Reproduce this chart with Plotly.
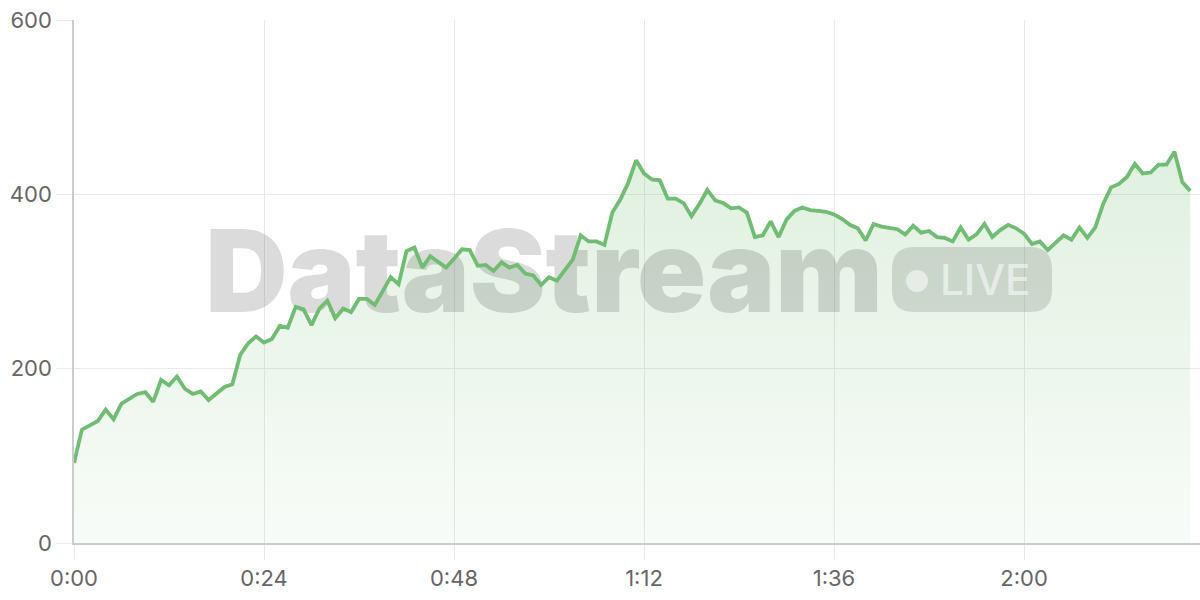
import plotly.graph_objects as go

# ---- data ----
minutes = list(range(142))
values = [92, 130, 135, 140, 153, 142, 160, 166, 171, 173,
          162, 187, 181, 191, 177, 171, 174, 164, 171, 179,
          182, 216, 229, 237, 230, 234, 249, 247, 271, 268,
          250, 269, 278, 258, 269, 265, 280, 280, 273, 290,
          305, 297, 335, 339, 316, 329, 322, 316, 326, 337,
          336, 318, 319, 312, 322, 316, 319, 309, 307, 296,
          305, 301, 313, 325, 353, 346, 346, 342, 379, 394,
          413, 439, 424, 417, 416, 395, 395, 390, 375, 389,
          405, 393, 390, 384, 385, 379, 351, 353, 369, 351,
          371, 381, 385, 382, 381, 380, 377, 372, 365, 361,
          347, 366, 363, 362, 360, 354, 364, 356, 358, 351,
          350, 346, 362, 348, 354, 366, 351, 359, 365, 361,
          355, 343, 346, 336, 344, 353, 348, 362, 350, 362,
          389, 408, 412, 420, 435, 424, 425, 434, 434, 449,
          414, 404]
x_tickvals = [0, 24, 48, 72, 96, 120]
x_ticktext = ["0:00", "0:24", "0:48", "1:12", "1:36", "2:00"]
y_tickvals = [0, 200, 400, 600]

GREEN = "rgb(112,188,114)"
W, H = 1200, 600
ML, MR, MT, MB = 74, 0, 20, 57
PW, PH = W - ML - MR, H - MT - MB
XSCALE = 190 / 24          # px per minute
YSCALE = PH / 600          # px per unit


def px(x):
    return (x - ML) / PW


def py(y):
    return (H - MB - y) / PH


fig = go.Figure()

# filled area
fig.add_trace(go.Scatter(
    x=minutes, y=values, mode="lines", fill="tozeroy",
    line=dict(width=0, color=GREEN),
    fillgradient=dict(type="vertical",
                      colorscale=[[0, "rgba(112,188,114,0.05)"],
                                  [1, "rgba(112,188,114,0.22)"]]),
    hoverinfo="skip", showlegend=False))

# watermark text (beneath the line)
fig.add_trace(go.Scatter(
    x=[(544 - ML) / XSCALE], y=[(H - MB - 283) / YSCALE],
    mode="text", text=["DataStream"],
    textfont=dict(family="Inter", size=114, weight=900, color="rgba(0,0,0,0.14)"),
    textposition="middle center", hoverinfo="skip", showlegend=False))

# line
fig.add_trace(go.Scatter(
    x=minutes, y=values, mode="lines",
    line=dict(width=3.8, color=GREEN),
    hoverinfo="skip", showlegend=False))

# LIVE badge
bx0, bx1, by0, by1, r = 892, 1052, 247, 312, 22
path = (f"M {px(bx0 + r)},{py(by0)} L {px(bx1 - r)},{py(by0)} "
        f"Q {px(bx1)},{py(by0)} {px(bx1)},{py(by0 + r)} "
        f"L {px(bx1)},{py(by1 - r)} Q {px(bx1)},{py(by1)} {px(bx1 - r)},{py(by1)} "
        f"L {px(bx0 + r)},{py(by1)} Q {px(bx0)},{py(by1)} {px(bx0)},{py(by1 - r)} "
        f"L {px(bx0)},{py(by0 + r)} Q {px(bx0)},{py(by0)} {px(bx0 + r)},{py(by0)} Z")
fig.add_shape(type="path", path=path, xref="paper", yref="paper",
              fillcolor="rgba(0,0,0,0.12)", line=dict(width=0), layer="above")
fig.add_shape(type="circle", xref="paper", yref="paper",
              x0=px(906), x1=px(928), y0=py(270), y1=py(292),
              fillcolor="rgba(255,255,255,0.55)", line=dict(width=0), layer="above")
fig.add_annotation(x=px(985), y=py(279), xref="paper", yref="paper",
                   text="LIVE", showarrow=False,
                   font=dict(family="Inter", size=42, weight=500,
                             color="rgba(255,255,255,0.55)"),
                   xanchor="center", yanchor="middle")

fig.update_layout(
    width=W, height=H,
    margin=dict(l=ML, r=MR, t=MT, b=MB, autoexpand=False),
    plot_bgcolor="white", paper_bgcolor="white",
    font=dict(family="Inter", size=22, color="#666"),
    xaxis=dict(range=[0, PW / XSCALE], tickvals=x_tickvals, ticktext=x_ticktext,
               showgrid=True, gridcolor="#e9e9e9", gridwidth=1,
               ticks="outside", ticklen=15, tickcolor="#e9e9e9",
               showline=True, linecolor="#cccccc", linewidth=1.5,
               zeroline=False, fixedrange=True, automargin=False),
    yaxis=dict(range=[0, 600], tickvals=y_tickvals,
               showgrid=True, gridcolor="#e9e9e9", gridwidth=1,
               ticks="outside", ticklen=16, tickcolor="#e9e9e9",
               showline=True, linecolor="#cccccc", linewidth=1.5,
               zeroline=False, fixedrange=True, automargin=False),
    showlegend=False,
)

fig.write_html("out.html", config={"displayModeBar": False},
               post_script="document.body.style.margin='0';")
